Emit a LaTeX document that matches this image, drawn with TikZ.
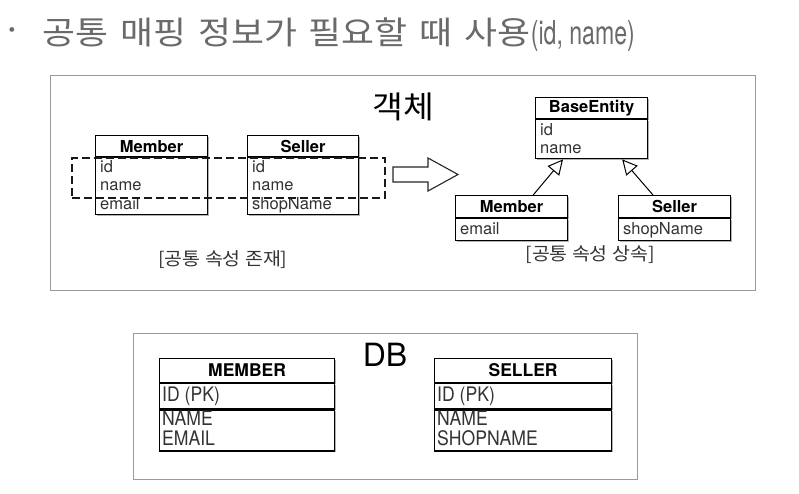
\documentclass[tikz,border=0pt]{standalone}
\usepackage{fontspec}
\setmainfont{TeX Gyre Heros}
\newfontfamily\kr[FakeStretch=1.08]{Noto Sans CJK KR}
\newfontfamily\krt[FakeStretch=1.12]{Noto Sans CJK KR}
\newfontfamily\hcn[FakeStretch=0.7]{TeX Gyre Heros}
\newfontfamily\dbf[FakeStretch=0.88]{TeX Gyre Heros}
\usetikzlibrary{arrows.meta,calc,shadows}
\definecolor{titlegray}{HTML}{6A6A6A}
\definecolor{framegray}{HTML}{999999}
\definecolor{rowtext}{HTML}{333333}
\begin{document}
\begin{tikzpicture}[x=1pt,y=-1pt,
  frame/.style={draw=framegray, line width=1.4pt, inner sep=0pt, anchor=north west},
  cls/.style={draw=black, line width=1.2pt, fill=white, inner sep=0pt, anchor=north west,
    drop shadow={shadow xshift=1.2pt, shadow yshift=-1.4pt, fill=black, opacity=0.3}},
  hdr/.style={font=\bfseries\fontsize{16.5}{16.5}\selectfont},
  dbhdr/.style={font=\bfseries\fontsize{17.5}{17.5}\selectfont},
  row/.style={anchor=base west, inner sep=0pt, text=rowtext, font=\fontsize{16.5}{16.5}\selectfont},
  dbrow/.style={anchor=base west, inner sep=0pt, text=rowtext, font=\dbf\fontsize{20}{20}\selectfont},
  caption/.style={inner sep=0pt, text=rowtext, font=\kr\fontsize{18}{18}\selectfont},
  grpbox/.style={draw=black!90, line width=1.5pt, dash pattern=on 8pt off 4pt, inner sep=0pt, anchor=north west},
  inh/.style={line width=1pt, -{Triangle[open, length=15pt, width=15pt, fill=white]}},
  fat/.style={draw=black!85, line width=1.1pt, fill=white, line join=miter}
]
\useasboundingbox (0,0) rectangle (799,493);

% title
\node[inner sep=0pt, text=titlegray, font=\fontsize{19}{19}\selectfont] (bullet) at (12,32) {•};
\node[anchor=base west, inner sep=0pt, text=titlegray] (title) at (42,44)
  {\krt\fontsize{32}{32}\selectfont\spaceskip=12pt 공통 매핑 정보가 필요할 때 사용{\hcn\fontsize{33}{33}\selectfont\spaceskip=0pt(id, name)}};

% object frame
\node[frame, minimum width=705pt, minimum height=215pt] (objf) at (50,75) {};
\node[inner sep=0pt, font=\kr\fontsize{31}{31}\selectfont] (objt) at (403,107) {객체};

% left Member
\node[cls, minimum width=112pt, minimum height=21pt, hdr] (m1h) at (95,135) {Member};
\node[cls, minimum width=112pt, minimum height=57pt] (m1b) at (m1h.south west) {};
\node[row] (m1id) at (100,172) {id};
\node[row] (m1nm) at (100,190) {name};
\node[row] (m1em) at (100,209) {email};

% left Seller
\node[cls, minimum width=111pt, minimum height=21pt, hdr] (s1h) at (247,135) {Seller};
\node[cls, minimum width=111pt, minimum height=57pt] (s1b) at (s1h.south west) {};
\node[row] (s1id) at (252,172) {id};
\node[row] (s1nm) at (252,190) {name};
\node[row] (s1sn) at (252,209) {shopName};

% dashed group
\node[grpbox, minimum width=313pt, minimum height=40pt] (grp) at (71,157) {};

\node[caption] (cap1) at (223,260) {[공통 속성 존재]};

% fat arrow
\coordinate (fa1) at (393,167);
\coordinate (fa2) at (428,167);
\coordinate (fa3) at (428,158);
\coordinate (fa4) at (458,174.5);
\coordinate (fa5) at (428,191);
\coordinate (fa6) at (428,182);
\coordinate (fa7) at (393,182);
\draw[fat] (fa1) -- (fa2) -- (fa3) -- (fa4) -- (fa5) -- (fa6) -- (fa7) -- cycle;

% BaseEntity
\node[cls, minimum width=112pt, minimum height=21pt, hdr] (beh) at (535,97) {BaseEntity};
\node[cls, minimum width=112pt, minimum height=39pt] (beb) at (beh.south west) {};
\node[row] (beid) at (540,135) {id};
\node[row] (benm) at (540,153) {name};

% right Member
\node[cls, minimum width=112pt, minimum height=22pt, hdr] (m2h) at (455,195) {Member};
\node[cls, minimum width=112pt, minimum height=22pt] (m2b) at (m2h.south west) {};
\node[row] (m2em) at (460,234) {email};

% right Seller
\node[cls, minimum width=112pt, minimum height=22pt, hdr] (s2h) at (618,195) {Seller};
\node[cls, minimum width=112pt, minimum height=22pt] (s2b) at (s2h.south west) {};
\node[row] (s2sn) at (623,234) {shopName};

\draw[inh] ($(m2h.north east)+(-35,0)$) -- ($(beb.south west)+(28,0)$);
\draw[inh] ($(s2h.north west)+(35,0)$) -- ($(beb.south east)+(-26,0)$);

\node[caption] (cap2) at (590,255) {[공통 속성 상속]};

% DB frame
\node[frame, minimum width=504pt, minimum height=146pt] (dbf) at (133,333) {};
\node[inner sep=0pt, font=\fontsize{32}{32}\selectfont] (dbt) at (385,355) {DB};

% MEMBER table
\node[cls, minimum width=175pt, minimum height=24pt, dbhdr] (mth) at (159,358) {MEMBER};
\node[cls, minimum width=175pt, minimum height=25pt] (mtk) at (mth.south west) {};
\node[cls, minimum width=175pt, minimum height=41pt] (mtc) at (mtk.south west) {};
\node[dbrow] (mtid) at (162,401) {ID (PK)};
\node[dbrow] (mtnm) at (162,425) {NAME};
\node[dbrow] (mtem) at (162,445.5) {EMAIL};

% SELLER table
\node[cls, minimum width=177pt, minimum height=24pt, dbhdr] (sth) at (434,358) {SELLER};
\node[cls, minimum width=177pt, minimum height=25pt] (stk) at (sth.south west) {};
\node[cls, minimum width=177pt, minimum height=41pt] (stc) at (stk.south west) {};
\node[dbrow] (stid) at (437,401) {ID (PK)};
\node[dbrow] (stnm) at (437,425) {NAME};
\node[dbrow] (stsn) at (437,445.5) {SHOPNAME};
\end{tikzpicture}
\end{document}
